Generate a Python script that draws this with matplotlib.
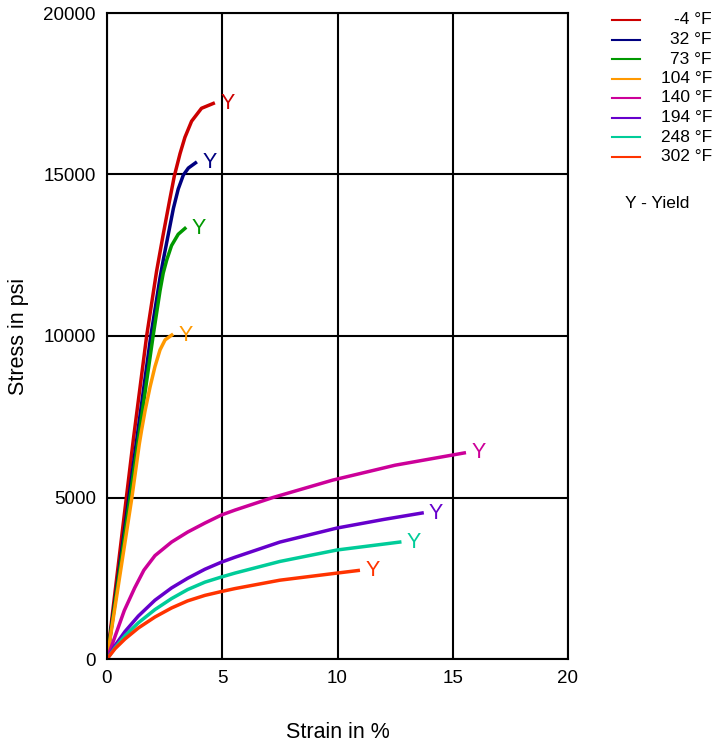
import matplotlib.pyplot as plt

plt.rcParams['font.family'] = ['Liberation Sans', 'DejaVu Sans']

# strain (%) / stress (psi), one pair of lists per temperature
labels = ['-4 °F', '32 °F', '73 °F', '104 °F', '140 °F', '194 °F', '248 °F', '302 °F']
colors = ['#cc0000', '#000080', '#009900', '#ff9900', '#cc0099', '#6600cc', '#00cc99', '#ff3300']

strain_m4 = [0, 1.14, 1.72, 2.15, 2.44, 2.73, 2.92, 3.17, 3.38, 3.67, 4.10, 4.61]
stress_m4 = [0, 6780, 10000, 12000, 13150, 14250, 14950, 15650, 16150, 16650, 17050, 17200]
strain_32 = [0, 0.95, 1.9, 2.30, 2.44, 2.66, 2.88, 3.09, 3.31, 3.53, 3.84]
stress_32 = [0, 5000, 10000, 11800, 12350, 13150, 13950, 14550, 14980, 15200, 15360]
strain_73 = [0, 1.0, 2.0, 2.3, 2.44, 2.59, 2.80, 3.09, 3.38]
stress_73 = [0, 5000, 10000, 11400, 11950, 12350, 12800, 13150, 13330]
strain_104 = [0, 1.08, 1.40, 1.50, 1.65, 1.87, 2.08, 2.30, 2.52, 2.81]
stress_104 = [0, 5000, 6650, 7080, 7680, 8430, 9050, 9570, 9880, 10030]
strain_140 = [0, 0.35, 0.75, 1.2, 1.6, 2.08, 2.8, 3.5, 4.25, 4.97, 5.55, 7.2, 9.8, 12.5, 15.5]
stress_140 = [0, 700, 1500, 2200, 2750, 3200, 3620, 3930, 4210, 4460, 4610, 5000, 5540, 6000, 6380]
strain_194 = [0, 0.35, 0.78, 1.36, 2.08, 2.8, 3.5, 4.25, 4.97, 5.55, 7.5, 9.98, 12.0, 13.67]
stress_194 = [0, 420, 850, 1330, 1820, 2200, 2500, 2780, 3000, 3150, 3620, 4055, 4320, 4520]
strain_248 = [0, 0.35, 0.78, 1.36, 2.08, 2.8, 3.5, 4.25, 4.97, 5.55, 7.5, 9.98, 12.7]
stress_248 = [0, 350, 720, 1120, 1530, 1870, 2150, 2380, 2540, 2660, 3020, 3375, 3620]
strain_302 = [0, 0.35, 0.78, 1.36, 2.08, 2.8, 3.5, 4.25, 4.97, 5.55, 7.5, 9.98, 10.9]
stress_302 = [0, 320, 620, 960, 1300, 1580, 1800, 1970, 2090, 2180, 2440, 2660, 2740]

strains = [strain_m4, strain_32, strain_73, strain_104, strain_140, strain_194, strain_248, strain_302]
stresses = [stress_m4, stress_32, stress_73, stress_104, stress_140, stress_194, stress_248, stress_302]

fig = plt.figure(figsize=(7.15, 7.45), dpi=100)
ax = fig.add_axes([107 / 715, 1 - 659 / 745, 461 / 715, 646 / 745])

for x, y, c, lab in zip(strains, stresses, colors, labels):
    ax.plot(x, y, color=c, linewidth=2.5, label=lab, solid_joinstyle='round')
    ax.annotate('Y', (x[-1], y[-1]), xytext=(5, 0), textcoords='offset points',
                color=c, fontsize=15.5, va='center', ha='left')

ax.set_xlim(0, 20)
ax.set_ylim(0, 20000)
ax.set_xticks([0, 5, 10, 15, 20])
ax.set_yticks([0, 5000, 10000, 15000, 20000])
ax.grid(True, color='black', linewidth=1.5)
ax.set_axisbelow(True)
ax.tick_params(length=0, labelsize=13.5, pad=8)
for s in ax.spines.values():
    s.set_linewidth(1.5)
ax.set_xlabel('Strain in %', fontsize=15.5, labelpad=25)
ax.set_ylabel('Stress in psi', fontsize=15.5, labelpad=10)

# legend outside on the right
for i, (c, lab) in enumerate(zip(colors, labels)):
    yy = 1 - (20 + i * 19.5) / 745
    fig.add_artist(plt.Line2D([612 / 715, 640 / 715], [yy, yy], color=c, linewidth=1.5))
    fig.text(712 / 715, yy, lab, ha='right', va='center', fontsize=12.5)
fig.text(657 / 715, 1 - 203 / 745, 'Y - Yield', ha='center', va='center', fontsize=12.5)

fig.savefig('out.png', dpi=100)
